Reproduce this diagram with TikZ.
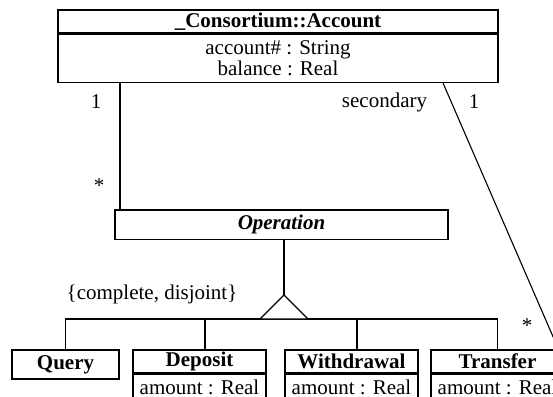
\documentclass[tikz,border=0pt]{standalone}
\usepackage{fontspec}
\setmainfont{Liberation Serif}
\usetikzlibrary{positioning}

\newcommand\umlsize{\fontsize{21}{21}\selectfont}

\tikzset{
  classname/.style={draw, line width=1.3pt, font=\umlsize\bfseries, inner sep=0pt, minimum height=23pt},
  classattr/.style={draw, line width=1.3pt, font=\umlsize, align=center, inner sep=0pt},
  abstractclass/.style={draw, line width=1.3pt, font=\umlsize\bfseries\itshape, inner sep=0pt, minimum height=29.5pt},
  line/.style={draw, line width=1.1pt},
  role/.style={inner sep=0pt, font=\umlsize}
}

\begin{document}
\begin{tikzpicture}[x=1pt, y=-1pt]
  \useasboundingbox (0,0) rectangle (553,396);
  \clip (0,0) rectangle (553,396);

  % classes
  \node[classname, minimum width=440pt] (acct) at (278,21.5) {\_Consortium::Account};
  \node[classattr, minimum width=440pt, minimum height=48pt, below=0pt of acct] (acctattr) {account\# : String\\balance : Real};
  \node[abstractclass, minimum width=333pt] (op) at (281.5,224.75) {Operation};

  \node[classname, minimum width=107pt, minimum height=29pt] (query) at (65.5,364.5) {Query};
  \node[classname, minimum width=133pt] (deposit) at (199.5,361.5) {Deposit};
  \node[classattr, minimum width=133pt, minimum height=26pt, below=0pt of deposit] (depositattr) {amount : Real};
  \node[classname, minimum width=133pt] (withdrawal) at (351.5,361.5) {Withdrawal};
  \node[classattr, minimum width=133pt, minimum height=26pt, below=0pt of withdrawal] (withdrawalattr) {amount : Real};
  \node[classname, minimum width=133pt] (transfer) at (497.5,361.5) {Transfer};
  \node[classattr, minimum width=133pt, minimum height=26pt, below=0pt of transfer] (transferattr) {amount : Real};

  % generalization
  \coordinate (apex) at (284,295);
  \coordinate (bus) at (284,319);
  \coordinate (depdrop) at ([xshift=5.5pt]deposit.north);
  \coordinate (wdrdrop) at ([xshift=5.5pt]withdrawal.north);
  \draw[line] (op.south -| apex) -- (apex);
  \draw[line] (query.north) |- (transfer.north |- bus) -- (transfer.north);
  \draw[line] (depdrop) -- (depdrop |- bus);
  \draw[line] (wdrdrop) -- (wdrdrop |- bus);
  \draw[line, fill=white] (apex) -- ++(-24,24) -- ++(48,0) -- cycle;

  % associations
  \draw[line] ([xshift=-158pt]acctattr.south) -- ([xshift=-161.5pt]op.north);
  \draw[line] ([xshift=165pt]acctattr.south) -- ([xshift=61pt]transfer.north);

  \node[role] (acctone) at (96,102) {1};
  \node[role] (opmany) at (99,186) {*};
  \node[role] (secrole) at (384.5,102) {secondary};
  \node[role] (secone) at (474,102) {1};
  \node[role] (trmany) at (527,326) {*};
  \node[role] (gset) at (152,294) {\{complete, disjoint\}};
\end{tikzpicture}
\end{document}
